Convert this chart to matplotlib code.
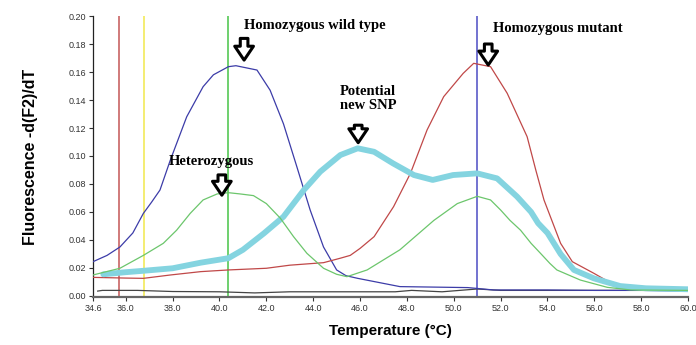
import matplotlib
matplotlib.use('Agg')
import matplotlib.pyplot as plt

# homozygous wild type (blue)
wt_t = [34.6, 35.2, 35.75, 36.3, 36.75, 37.1, 37.46, 37.9, 38.6, 39.3, 39.74, 40.38, 40.7,
        41.6, 42.16, 42.73, 43.3, 43.87, 44.44, 45.0, 45.4, 45.9, 47.7, 50.6, 51.7, 54.0,
        56.0, 58.0, 60.0]
wt_v = [0.0245, 0.029, 0.035, 0.045, 0.059, 0.067, 0.0757, 0.097, 0.128, 0.1495, 0.158, 0.1638,
        0.1645, 0.1614, 0.147, 0.123, 0.0924, 0.0614, 0.035, 0.0186, 0.0145, 0.0126, 0.0067,
        0.006, 0.0043, 0.0043, 0.004, 0.004, 0.0035]

# heterozygous (green)
het_t = [34.6, 35.75, 36.75, 37.6, 38.17, 38.75, 39.3, 39.9, 40.38, 40.88, 41.45, 42.0, 42.6,
         43.16, 43.73, 44.44, 45.0, 45.44, 46.3, 47.7, 49.15, 50.15, 51.0, 51.57, 52.0, 52.4,
         52.85, 53.3, 53.7, 54.1, 54.4, 55.4, 56.55, 57.55, 60.0]
het_v = [0.015, 0.0198, 0.029, 0.0376, 0.047, 0.059, 0.0686, 0.0729, 0.0738, 0.0729, 0.0717,
         0.066, 0.0555, 0.0424, 0.0305, 0.0198, 0.0155, 0.0138, 0.0186, 0.033, 0.054, 0.066,
         0.0712, 0.0686, 0.0614, 0.054, 0.047, 0.0376, 0.0305, 0.0233, 0.0186, 0.0114, 0.0062,
         0.0043, 0.004]

# homozygous mutant (red)
mut_t = [34.6, 36.0, 36.75, 37.9, 39.2, 40.38, 42.0, 43.0, 44.44, 45.16, 45.58, 46.0, 46.6,
         47.43, 48.15, 48.86, 49.57, 50.4, 50.85, 51.57, 52.28, 53.13, 53.5, 53.85, 54.56,
         55.06, 55.98, 57.1, 58.0, 60.0]
mut_v = [0.0133, 0.0128, 0.0126, 0.015, 0.0174, 0.0186, 0.0198, 0.022, 0.0238, 0.027, 0.029,
         0.034, 0.0424, 0.0638, 0.0876, 0.1186, 0.1424, 0.159, 0.1662, 0.1638, 0.1448, 0.1138,
         0.09, 0.0686, 0.0376, 0.0245, 0.0162, 0.0055, 0.0045, 0.004]

# potential new SNP (thick cyan)
snp_t = [35.04, 36.0, 36.75, 38.0, 39.2, 40.38, 41.0, 41.9, 42.73, 43.6, 44.3, 45.16, 45.9,
         46.6, 47.4, 48.3, 49.1, 49.97, 51.0, 51.85, 52.7, 53.3, 53.6, 54.0, 54.56, 55.13,
         55.98, 57.1, 58.2, 60.0]
snp_v = [0.0155, 0.017, 0.018, 0.0198, 0.0238, 0.027, 0.033, 0.0448, 0.0566, 0.0757, 0.0888,
         0.1007, 0.1055, 0.103, 0.0948, 0.0864, 0.0829, 0.0864, 0.0876, 0.084, 0.071, 0.060,
         0.052, 0.045, 0.030, 0.0186, 0.0126, 0.0071, 0.0055, 0.0048]

# no template / baseline (dark grey)
ntc_t = [34.8, 35.0, 36.5, 38.0, 40.0, 41.5, 43.0, 45.0, 47.5, 48.2, 49.5, 51.0, 52.0, 60.0]
ntc_v = [0.0035, 0.004, 0.004, 0.0032, 0.003, 0.0022, 0.003, 0.003, 0.003, 0.004, 0.003,
         0.005, 0.004, 0.004]

# vertical marker lines
vlines = [35.71, 36.78, 40.38, 51.0]
vline_colors = ['#c86464', '#f2ea5a', '#55c855', '#5a5ac8']

xticks = [34.6, 36.0, 38.0, 40.0, 42.0, 44.0, 46.0, 48.0, 50.0, 52.0, 54.0, 56.0, 58.0, 60.0]
yticks = [0.00, 0.02, 0.04, 0.06, 0.08, 0.10, 0.12, 0.14, 0.16, 0.18, 0.20]

fig = plt.figure(figsize=(6.96, 3.45), dpi=100)
ax = fig.add_axes([0.1336, 0.138, 0.855, 0.8156])

for x, c in zip(vlines, vline_colors):
    ax.axvline(x, color=c, lw=1.2, zorder=1)

ax.plot(ntc_t, ntc_v, color='#444444', lw=0.9, zorder=2)
ax.plot(wt_t, wt_v, color='#3c3ca8', lw=0.9, zorder=3)
ax.plot(mut_t, mut_v, color='#c04848', lw=0.9, zorder=3)
ax.plot(snp_t, snp_v, color='#84d4e0', lw=4.2, solid_capstyle='round', zorder=4)
ax.plot(het_t, het_v, color='#6cc66c', lw=0.9, zorder=5)

ax.set_xlim(34.6, 60.0)
ax.set_ylim(-0.001, 0.20)
ax.set_xticks(xticks)
ax.set_xticklabels(['%.1f' % t for t in xticks])
ax.set_yticks(yticks)
ax.set_yticklabels(['%.2f' % t for t in yticks])
ax.tick_params(labelsize=6.5, labelcolor='#333333', length=3, width=0.8, color='#333333',
               pad=2)
for lab in ax.get_xticklabels() + ax.get_yticklabels():
    lab.set_family('Liberation Sans')

ax.spines['top'].set_visible(False)
ax.spines['right'].set_visible(False)
ax.spines['left'].set_color('#222222')
ax.spines['left'].set_linewidth(0.9)
ax.spines['bottom'].set_color('#666666')
ax.spines['bottom'].set_linewidth(1.6)

ax.set_xlabel('Temperature (°C)', family='Liberation Sans', fontweight='bold', fontsize=11,
              labelpad=8)
ax.set_ylabel('Fluorescence -d(F2)/dT', family='Liberation Sans', fontweight='bold',
              fontsize=11.5, labelpad=22)

# annotations
tfont = dict(family='Liberation Serif', fontweight='bold', fontsize=10.5)
ax.text(41.05, 0.193, 'Homozygous wild type', ha='left', va='center', **tfont)
ax.text(51.68, 0.191, 'Homozygous mutant', ha='left', va='center', **tfont)
ax.text(46.35, 0.141, 'Potential\nnew SNP', ha='center', va='center', linespacing=1.1, **tfont)
ax.text(39.64, 0.096, 'Heterozygous', ha='center', va='center', **tfont)

arrows = [(41.05, 0.184, 0.1685), (51.47, 0.180, 0.165), (45.92, 0.122, 0.1095),
          (40.1, 0.0865, 0.072)]
for x, top, tip in arrows:
    ax.annotate('', xy=(x, tip), xytext=(x, top),
                arrowprops=dict(arrowstyle='simple,head_length=1.0,head_width=1.35,tail_width=0.55',
                                fc='white', ec='black', lw=2.2, shrinkA=0, shrinkB=0,
                                mutation_scale=10),
                zorder=6)

plt.savefig('out.png', dpi=100)
